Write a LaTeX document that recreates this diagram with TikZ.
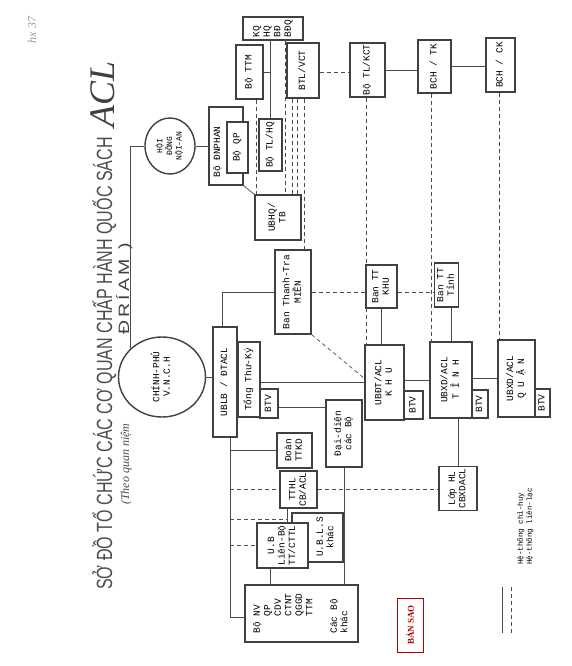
\documentclass[tikz,border=0pt]{standalone}
\usepackage{fontspec}
\setmainfont{Liberation Serif}
\setsansfont{Liberation Sans}
\setmonofont{Liberation Mono}
\usetikzlibrary{shapes.geometric}

% rotated multi-line label, read from bottom to top
\newcommand{\vtext}[2][c]{\rotatebox{90}{\begin{tabular}{@{}#1@{}}#2\end{tabular}}}

\begin{document}
\begin{tikzpicture}[x=1pt, y=-1pt]
  \tikzstyle{box} = [draw=black!75, line width=1.1pt, fill=white, inner sep=0pt, text=black, font=\ttfamily\fontsize{9.5}{10.5}\selectfont]
  \tikzstyle{circ} = [ellipse, draw=black!75, line width=1.4pt, fill=white, inner sep=0pt, text=black, font=\ttfamily\fontsize{9.5}{10.5}\selectfont]
  \tikzstyle{lbl} = [inner sep=0pt, text=black, font=\ttfamily\fontsize{9.5}{10.5}\selectfont]
  \tikzstyle{cmd} = [draw=black!70, line width=0.7pt]
  \tikzstyle{lien} = [draw=black!70, line width=0.7pt, dash pattern=on 4pt off 3pt]
  \useasboundingbox (0,0) rectangle (571,666);

  % heading
  \node[rotate=90, anchor=base west, inner sep=0pt, text=black!70, font=\sffamily\fontsize{22}{22}\selectfont] (title) at (112,590) {\scalebox{0.73}[1]{SỞ ĐỒ TỔ CHỨC CÁC CƠ QUAN CHẤP HÀNH QUỐC SÁCH}};
  \node[rotate=90, anchor=base west, inner sep=0pt, text=black!75, font=\rmfamily\itshape\fontsize{36}{36}\selectfont] (acl) at (114,128) {ACL};
  \node[rotate=90, anchor=base west, inner sep=0pt, text=black!70, font=\rmfamily\itshape\fontsize{12}{12}\selectfont] (sub) at (129,505) {(Theo quan niệm};
  \node[rotate=90, anchor=base west, inner sep=0pt, text=black!75, font=\sffamily\fontsize{15}{15}\selectfont] (briam) at (129,335) {\scalebox{1.3}[1]{Đ\,R\,Í\,A\,M\enspace)}};
  \node[rotate=90, inner sep=0pt, text=black!40, font=\rmfamily\itshape\fontsize{12}{12}\selectfont] (note) at (32,30) {hx 37};

  % circles
  \node[circ, minimum width=87, minimum height=80] (cp) at (162,377) {\vtext{CHÍNH-PHỦ\\V.N.C.H}};
  \node[circ, minimum width=50, minimum height=56, font=\ttfamily\fontsize{8}{9}\selectfont] (hd) at (170,146) {\vtext{HỘI\\ĐỒNG\\NỘI-AN}};

  % upper group
  \node[box, minimum width=60, minimum height=23] (kq) at (273,28.5) {\vtext[l]{KQ\\HQ\\BĐ\\BĐQ}};
  \node[box, minimum width=27, minimum height=54] (ttm) at (249.5,72) {\vtext{Bộ TTM}};
  \node[box, minimum width=32, minimum height=55] (btl) at (303,70.5) {\vtext{BTL/VCT}};
  \node[box, minimum width=35, minimum height=54] (tlkct) at (367.5,70) {\vtext{Bộ TL/KCT}};
  \node[box, minimum width=33, minimum height=53] (bchtk) at (434.5,66.5) {\vtext{BCH / TK}};
  \node[box, minimum width=29, minimum height=54] (bchck) at (500.5,65) {\vtext{BCH / CK}};
  \node[box, minimum width=34, minimum height=78] (dnphan) at (226,146) {};
  \node[lbl] (dnphan-t) at (218,152) {\vtext{Bộ ĐNPHAN}};
  \node[box, minimum width=21, minimum height=51] (qp) at (237.5,147.5) {\vtext{Bộ QP}};
  \node[box, minimum width=23, minimum height=52] (tlhq) at (270.5,145) {\vtext{Bộ TL/HQ}};
  \node[box, minimum width=46, minimum height=45] (ubhq) at (278,217.5) {\vtext{UBHQ/\\TB}};
  \node[box, minimum width=36, minimum height=84] (thanhtra) at (293,292) {\vtext{Ban Thanh-Tra\\MIỀN}};
  \node[box, minimum width=31, minimum height=43] (khutt) at (381.5,286.5) {\vtext{Ban TT\\KHU}};
  \node[box, minimum width=24, minimum height=44] (tinhtt) at (446.5,285) {\vtext{Ban TT\\Tỉnh}};

  % middle row
  \node[box, minimum width=24, minimum height=110] (ublb) at (225,382) {\vtext{UBLB / ĐTACL}};
  \node[box, minimum width=22, minimum height=75] (ttk) at (249,379.5) {\vtext{Tổng Thư-Ký}};
  \node[box, minimum width=18, minimum height=29] (btv1) at (269,403.5) {\vtext{BTV}};
  \node[box, minimum width=39, minimum height=75] (ubdt) at (384.5,382.5) {\vtext{UBĐT/ACL\\K H U}};
  \node[box, minimum width=19, minimum height=28] (btv2) at (413.5,405) {\vtext{BTV}};
  \node[box, minimum width=42, minimum height=76] (uxt) at (451,380) {\vtext{UBXD/ACL\\T Ỉ N H}};
  \node[box, minimum width=16, minimum height=28] (btv3) at (480,404) {\vtext{BTV}};
  \node[box, minimum width=37, minimum height=77] (uxq) at (516.5,378.5) {\vtext{UBXD/ACL\\Q U Ậ N}};
  \node[box, minimum width=15, minimum height=28] (btv4) at (542.5,403) {\vtext{BTV}};

  % lower group
  \node[box, minimum width=36, minimum height=67] (ddien) at (344,433.5) {\vtext{Đại-diện\\các Bộ}};
  \node[box, minimum width=35, minimum height=35] (doan) at (294.5,450.5) {\vtext{Đoàn\\TTKD}};
  \node[box, minimum width=37, minimum height=37] (tthl) at (298.5,489.5) {\vtext{TTHL\\CB/ACL}};
  \node[box, minimum width=51, minimum height=49] (ubls) at (317.5,537.5) {};
  \node[lbl] (ubls-t) at (326,537) {\vtext{U.B.L.S\\khác}};
  \node[box, minimum width=51, minimum height=45] (ub) at (282.5,545.5) {\vtext{U.B\\Liên-Bộ\\TT/CTTL}};
  \node[box, minimum width=113, minimum height=57] (nv) at (301.5,613.5) {\vtext[l]{Bộ NV\\\phantom{Bộ }QP\\\phantom{Bộ }CDV\\\phantom{Bộ }CTNT\\\phantom{Bộ }QGGD\\\phantom{Bộ }TTM\\[14pt]Các Bộ\\khác}};
  \node[box, minimum width=38, minimum height=44] (lophl) at (458,488.5) {\vtext{Lớp HL\\CBXDACL}};

  % command lines
  \draw[cmd] (hd.west) -| (cp.north west);
  \draw[cmd] (hd.east) -- (hd.east -| dnphan.west);
  \draw[cmd] (cp.east) -- (cp.east -| ublb.west);
  \draw[cmd] (dnphan.south east) -- (ubhq.north west);
  \draw[cmd] (kq.south -| tlhq.north) -- (tlhq.north);
  \draw[cmd] (ttm.east) -- (ttm.east -| tlhq.north);
  \draw[cmd] (tlkct.east) -- (tlkct.east -| bchtk.west);
  \draw[cmd] (bchtk.east) -- (bchtk.east -| bchck.west);
  \draw[cmd] ([xshift=-3pt]ublb.north) |- (thanhtra.west);
  \draw[cmd] (khutt.south) -- (khutt.south |- ubdt.north);
  \draw[cmd] ([xshift=5pt]tinhtt.south) -- ([xshift=5pt]tinhtt.south |- uxt.north);
  \draw[cmd] ([yshift=-3pt]ttk.east) -- ([yshift=-3pt]ttk.east -| ubdt.west);
  \draw[cmd] (uxt.west -| ubdt.east) -- (uxt.west);
  \draw[cmd] (uxq.west -| uxt.east) -- (uxq.west);
  \draw[cmd] ([yshift=-4pt]btv1.east) -- ([yshift=-4pt]btv1.east -| ddien.west);
  \draw[cmd] (ddien.south) -- (ddien.south |- nv.north);
  \coordinate (trunk) at ([xshift=5pt]ublb.south);
  \coordinate (jn) at (287,519);
  \draw[cmd] (trunk) |- ([yshift=-4pt]nv.west);
  \draw[cmd] (doan.west -| trunk) -- (doan.west);
  \draw[cmd] (tthl.south -| jn) -- (ub.north -| jn);
  \draw[cmd] ([xshift=-12pt]ub.south) -- ([xshift=-12pt]ub.south |- nv.north);
  \draw[cmd] (lophl.north) -- (lophl.north |- uxt.south);

  % liaison lines
  \coordinate (ytop) at (0,72);
  \draw[lien] ([xshift=2pt]ubhq.north west |- ttm.south) -- ([xshift=2pt]ubhq.north west);
  \draw[lien] ([xshift=-18pt]kq.south east) -- ([xshift=-18pt]kq.south east |- ubhq.north);
  \draw[lien] ([xshift=6pt]btl.south west) -- ([xshift=6pt]btl.south west |- ubhq.north);
  \draw[lien] ([xshift=11pt]btl.south west) -- ([xshift=11pt]btl.south west |- ubhq.north);
  \draw[lien] ([xshift=18pt]btl.south west) -- ([xshift=18pt]btl.south west |- thanhtra.north);
  \draw[lien] (btl.east |- ytop) -- (tlkct.west |- ytop);
  \draw[lien] ([xshift=2pt]ubdt.north west |- tlkct.south) -- ([xshift=2pt]ubdt.north west);
  \draw[lien] ([xshift=2pt]uxt.north west |- bchtk.south) -- ([xshift=2pt]uxt.north west);
  \draw[lien] ([xshift=2pt]uxq.north west |- bchck.south) -- ([xshift=2pt]uxq.north west);
  \draw[lien] (thanhtra.east) -- (thanhtra.east -| khutt.west);
  \draw[lien] (khutt.east |- thanhtra.east) -- (tinhtt.west |- thanhtra.east);
  \draw[lien] (thanhtra.south east) -- ([yshift=4pt]ubdt.west);
  \draw[lien] (tthl.west -| trunk) -- (tthl.west);
  \draw[lien] (tthl.east) -- (tthl.east -| lophl.west);
  \draw[lien] (jn -| trunk) -- (jn);
  \draw[lien] (ub.west -| trunk) -- (ub.west);

  % legend
  \coordinate (leg1a) at (502,587);
  \coordinate (leg1b) at (502,633);
  \coordinate (leg2a) at (511,587);
  \coordinate (leg2b) at (511,633);
  \draw[cmd] (leg1a) -- (leg1b);
  \draw[lien] (leg2a) -- (leg2b);
  \node[rotate=90, anchor=north west, inner sep=0pt, align=left, text=black, font=\ttfamily\fontsize{7.5}{9}\selectfont] (legend) at (517,565) {Hệ-thống chỉ-huy\\Hệ-thống liên-lạc};

  % stamp
  \node[draw=red!70!black, text=red!70!black, line width=0.8pt, minimum width=26, minimum height=54, inner sep=0pt, font=\rmfamily\bfseries\fontsize{9}{9}\selectfont] (stamp) at (410,625) {\rotatebox{90}{BẢN SAO}};
\end{tikzpicture}
\end{document}
